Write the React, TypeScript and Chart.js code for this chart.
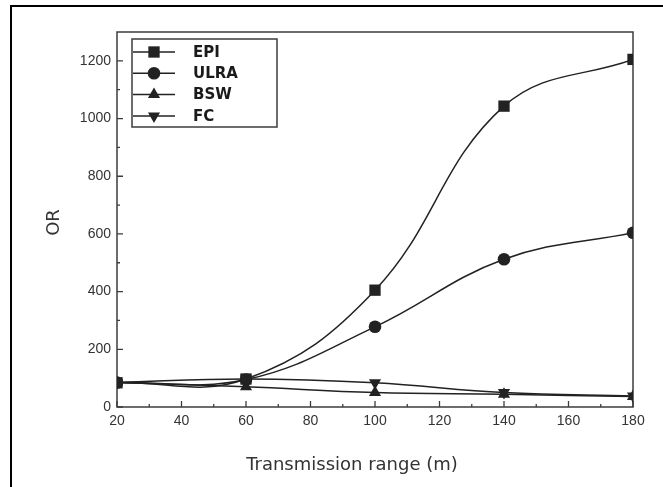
import React, { useEffect, useRef } from "react";
import { Chart, registerables } from "chart.js";

Chart.register(...registerables);

// Transmission range (m) on the x axis
const ranges = [20, 60, 100, 140, 180];

// OR values for each protocol
const epiValues = [84, 97, 405, 1043, 1205];
const ulraValues = [85, 95, 278, 512, 604];
const bswValues = [85, 70, 50, 44, 36];
const fcValues = [85, 97, 84, 50, 38];

const seriesLabels = ["EPI", "ULRA", "BSW", "FC"];

// Axis tick values
const xMajorTicks = [20, 40, 60, 80, 100, 120, 140, 160, 180];
const xMinorTicks = [30, 50, 70, 90, 110, 130, 150, 170];
const yMajorTicks = [0, 200, 400, 600, 800, 1000, 1200];
const yMinorTicks = [100, 300, 500, 700, 900, 1100];

const xTitle = "Transmission range (m)";
const yTitle = "OR";

const LINE = "#222222";
const AXIS = "#3c3c3c";

type Marker = { style: string; radius: number; rotation: number };
const markers: Marker[] = [
  { style: "rect", radius: 8, rotation: 0 },
  { style: "circle", radius: 6.3, rotation: 0 },
  { style: "triangle", radius: 7, rotation: 0 },
  { style: "triangle", radius: 7, rotation: 180 },
];

function drawMarker(ctx: CanvasRenderingContext2D, m: Marker, x: number, y: number) {
  ctx.save();
  ctx.fillStyle = LINE;
  ctx.beginPath();
  if (m.style === "rect") {
    const s = m.radius / Math.SQRT2;
    ctx.rect(x - s, y - s, 2 * s, 2 * s);
  } else if (m.style === "circle") {
    ctx.arc(x, y, m.radius, 0, Math.PI * 2);
  } else {
    let rad = (m.rotation * Math.PI) / 180;
    const r = m.radius;
    ctx.moveTo(x + Math.sin(rad) * r, y - Math.cos(rad) * r);
    rad += (2 * Math.PI) / 3;
    ctx.lineTo(x + Math.sin(rad) * r, y - Math.cos(rad) * r);
    rad += (2 * Math.PI) / 3;
    ctx.lineTo(x + Math.sin(rad) * r, y - Math.cos(rad) * r);
    ctx.closePath();
  }
  ctx.fill();
  ctx.restore();
}

const decorPlugin = {
  id: "decor",
  beforeDraw(chart: any) {
    const { ctx, width, height } = chart;
    ctx.save();
    ctx.fillStyle = "#ffffff";
    ctx.fillRect(0, 0, width, height);
    // page border (left and top edges)
    ctx.strokeStyle = "#000000";
    ctx.lineWidth = 2;
    ctx.beginPath();
    ctx.moveTo(11, height);
    ctx.lineTo(11, 6);
    ctx.lineTo(width, 6);
    ctx.stroke();
    ctx.restore();
  },
  beforeDatasetsDraw(chart: any) {
    const { ctx, chartArea: a, scales } = chart;
    const xs = scales.x;
    const ys = scales.y;
    ctx.save();
    ctx.strokeStyle = AXIS;
    ctx.lineWidth = 1.5;
    ctx.strokeRect(a.left, a.top, a.right - a.left, a.bottom - a.top);
    ctx.lineWidth = 1.3;
    ctx.beginPath();
    xMajorTicks.forEach((v) => {
      const px = xs.getPixelForValue(v);
      ctx.moveTo(px, a.bottom);
      ctx.lineTo(px, a.bottom - 6);
    });
    xMinorTicks.forEach((v) => {
      const px = xs.getPixelForValue(v);
      ctx.moveTo(px, a.bottom);
      ctx.lineTo(px, a.bottom - 3);
    });
    yMajorTicks.forEach((v) => {
      const py = ys.getPixelForValue(v);
      ctx.moveTo(a.left, py);
      ctx.lineTo(a.left + 6, py);
    });
    yMinorTicks.forEach((v) => {
      const py = ys.getPixelForValue(v);
      ctx.moveTo(a.left, py);
      ctx.lineTo(a.left + 3, py);
    });
    ctx.stroke();
    ctx.restore();
  },
  afterDraw(chart: any) {
    const { ctx, chartArea: a } = chart;
    ctx.save();
    // legend box
    const bx = a.left + 15;
    const by = a.top + 7;
    ctx.strokeStyle = AXIS;
    ctx.lineWidth = 1.5;
    ctx.strokeRect(bx, by, 145, 88);
    const rowGap = 21.3;
    ctx.font = "bold 15px 'DejaVu Sans'";
    ctx.textBaseline = "middle";
    ctx.textAlign = "left";
    seriesLabels.forEach((label, i) => {
      const y = by + 13 + i * rowGap;
      ctx.strokeStyle = LINE;
      ctx.lineWidth = 1.5;
      ctx.beginPath();
      ctx.moveTo(bx + 1, y);
      ctx.lineTo(bx + 43, y);
      ctx.stroke();
      drawMarker(ctx, markers[i], bx + 22, y);
      ctx.fillStyle = "#1a1a1a";
      ctx.fillText(label, bx + 61, y + 1);
    });
    // axis titles
    ctx.fillStyle = "#333333";
    ctx.font = "18px 'DejaVu Sans'";
    ctx.textAlign = "center";
    ctx.textBaseline = "middle";
    ctx.fillText(xTitle, a.left + 235, 465);
    ctx.translate(54, (a.top + a.bottom) / 2 + 3);
    ctx.rotate(-Math.PI / 2);
    ctx.fillText(yTitle, 0, 0);
    ctx.restore();
  },
};

export default function App() {
  const canvasRef = useRef<HTMLCanvasElement | null>(null);

  useEffect(() => {
    document.body.style.margin = "0";
    const canvas = canvasRef.current;
    if (!canvas) return;
    const seriesValues = [epiValues, ulraValues, bswValues, fcValues];
    const chart = new Chart(canvas, {
      type: "line",
      data: {
        datasets: seriesValues.map((vals, i) => ({
          label: seriesLabels[i],
          data: ranges.map((r, j) => ({ x: r, y: vals[j] })),
          borderColor: LINE,
          backgroundColor: LINE,
          borderWidth: 1.5,
          tension: 0.4,
          pointStyle: markers[i].style as any,
          pointRadius: markers[i].radius,
          pointRotation: markers[i].rotation,
          pointBorderWidth: 0,
          pointBackgroundColor: LINE,
          clip: 0,
        })),
      },
      options: {
        responsive: false,
        animation: false,
        layout: { padding: { left: 0, top: 32, right: 30, bottom: 0 } },
        plugins: {
          legend: { display: false },
          tooltip: { enabled: false },
        },
        scales: {
          x: {
            type: "linear",
            min: 20,
            max: 180,
            border: { display: false },
            grid: { display: false, drawTicks: false },
            ticks: {
              stepSize: 20,
              padding: 6,
              color: "#333333",
              font: { family: "'Liberation Sans', Arial", size: 14 },
              maxRotation: 0,
            },
            afterFit: (s: any) => {
              s.height = 80;
            },
          },
          y: {
            type: "linear",
            min: 0,
            max: 1300,
            border: { display: false },
            grid: { display: false, drawTicks: false },
            ticks: {
              stepSize: 200,
              padding: 6,
              color: "#333333",
              font: { family: "'Liberation Sans', Arial", size: 14 },
              callback: (v: any) => (Number(v) % 200 === 0 ? String(v) : ""),
            },
            afterFit: (s: any) => {
              s.width = 117;
            },
          },
        },
      },
      plugins: [decorPlugin],
    });
    return () => chart.destroy();
  }, []);

  return (
    <div style={{ width: 663, height: 487 }}>
      <canvas ref={canvasRef} width={663} height={487} style={{ display: "block" }} />
    </div>
  );
}
